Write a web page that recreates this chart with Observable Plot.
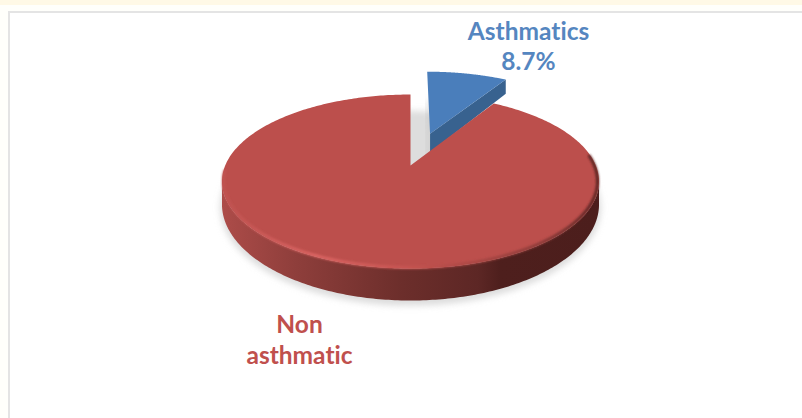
<!DOCTYPE html>
<html>
<head>
<meta charset="utf-8">
<script src="https://cdn.jsdelivr.net/npm/d3@7"></script>
<script src="https://cdn.jsdelivr.net/npm/@observablehq/plot@0.6"></script>
<style>
  html, body { margin: 0; padding: 0; background: #fffffb; }
  #strip { position: absolute; left: 0; top: 0; width: 802px; height: 5px; background: #fff9e6; }
  #frame { position: absolute; left: 8px; top: 11px; width: 794px; height: 407px;
           box-sizing: border-box; border-top: 2px solid #e4e4e4; border-left: 2px solid #e4e4e4; background: #fff; }
  #chart { position: absolute; left: 0; top: 0; }
</style>
</head>
<body>
<div id="strip"></div>
<div id="frame"></div>
<div id="chart"></div>
<script>
// Survey shares, in percent
const categories = ["Asthmatics", "Non asthmatic"];
const shares = [8.7, 91.3];
const labelLines = [["Asthmatics", "8.7%"], ["Non", "asthmatic"]];

// Colours of each slice
const topColors = ["#4a7ebb", "#bc4f4c"];
const wallColor = "#38628f";
const textColors = ["#5586c0", "#c0504d"];

// Camera for the tilted disc: unit disc coordinates are projected to the page
const width = 802, height = 418;
const hub = {x: 410, y: 165};
const radiusX = 185.3, radiusY = 84.06, perspective = 0.184, thickness = 21.3;
const explode = 0.42;

const project = (u, v, drop = 0) => {
  const w = 1 + perspective * v;
  return {x: hub.x + radiusX * u / w, y: hub.y - radiusY * v / w + drop * thickness / (w * w)};
};

// Angles run clockwise from twelve o'clock; first slice starts there
const total = d3.sum(shares);
const asthmaAngle = 2 * Math.PI * shares[0] / total;

const arcPoints = (a0, a1, cu = 0, cv = 0, drop = 0, r = 1, n = 120) =>
  d3.range(n + 1).map((i) => {
    const a = a0 + (a1 - a0) * i / n;
    return project(cu + r * Math.sin(a), cv + r * Math.cos(a), drop);
  });

// Blue slice, pulled out along its bisector
const mid = asthmaAngle / 2;
const cu = explode * Math.sin(mid), cv = explode * Math.cos(mid);
const blueTop = [project(cu, cv), ...arcPoints(0, asthmaAngle, cu, cv)];
const blueCorner = project(cu + Math.sin(asthmaAngle), cv + Math.cos(asthmaAngle));
const blueWall = [
  project(cu, cv), blueCorner,
  project(cu + Math.sin(asthmaAngle), cv + Math.cos(asthmaAngle), 1),
  project(cu, cv, 1)
];
const haze = [project(cu, cv + 0.45), project(cu, cv), project(cu, cv, 1)];

// Red slice: the rest of the disc
const redTop = [project(0, 0), ...arcPoints(asthmaAngle, 2 * Math.PI, 0, 0, 0, 1, 360)];
const edgeR = Math.PI / 2 + Math.asin(perspective), edgeL = 3 * Math.PI / 2 - Math.asin(perspective);
const redSide = [...arcPoints(edgeR, edgeL, 0, 0, 0, 1, 200), ...arcPoints(edgeL, edgeR, 0, 0, 1, 1, 200)];
const bevel = arcPoints(edgeR - 0.3, edgeL + 0.12, 0, 0, 0, 0.992, 300);
const shadow = arcPoints(0, 2 * Math.PI, 0, 0, 1.12, 1.01, 200);

// Gradients and blur used by the shaded parts of the disc
const defs = () => {
  const g = document.createElementNS("http://www.w3.org/2000/svg", "defs");
  g.innerHTML = `
    <linearGradient id="wall" gradientUnits="userSpaceOnUse" x1="221" x2="598" y1="0" y2="0">
      <stop offset="0" stop-color="#ad4c49"/>
      <stop offset="0.2" stop-color="#8e3e3b"/>
      <stop offset="0.48" stop-color="#6c2e2b"/>
      <stop offset="0.68" stop-color="#5d2725"/>
      <stop offset="0.74" stop-color="#4e1f1d"/>
      <stop offset="1" stop-color="#4c1e1c"/>
    </linearGradient>
    <linearGradient id="edge" gradientUnits="userSpaceOnUse" x1="221" x2="598" y1="0" y2="0">
      <stop offset="0" stop-color="#bf5250"/>
      <stop offset="0.25" stop-color="#dc6664"/>
      <stop offset="0.5" stop-color="#c65451"/>
      <stop offset="0.62" stop-color="#b14a47"/>
      <stop offset="0.85" stop-color="#8a3a38"/>
      <stop offset="1" stop-color="#5a2422"/>
    </linearGradient>
    <filter id="soft" x="-20%" y="-20%" width="140%" height="140%"><feGaussianBlur stdDeviation="1.3"/></filter>
    <filter id="softer" x="-20%" y="-20%" width="140%" height="140%"><feGaussianBlur stdDeviation="3"/></filter>
    <filter id="hazy" x="-200%" y="-50%" width="500%" height="200%"><feGaussianBlur stdDeviation="3"/></filter>`;
  return g;
};

const filtered = (id) => (index, scales, values, dimensions, context, next) => {
  const g = next(index, scales, values, dimensions, context);
  g.setAttribute("filter", `url(#${id})`);
  return g;
};

const xy = {x: "x", y: "y"};
const shape = (points, options) => Plot.line(points, {...xy, curve: "linear", strokeWidth: 0, ...options});
const labelFont = {fontFamily: "Lato, 'Open Sans', sans-serif", fontWeight: 700, fontSize: 24.5};

const chart = Plot.plot({
  width, height,
  margin: 0,
  style: {background: "transparent", fontVariantLigatures: "none"},
  x: {domain: [0, width], range: [0, width], axis: null},
  y: {domain: [0, height], range: [0, height], axis: null},
  marks: [
    defs,
    shape(shadow, {fill: "#cfcfcf", fillOpacity: 0.7, render: filtered("softer")}),
    Plot.line(haze, {...xy, stroke: "#a8a8a8", strokeWidth: 7, strokeOpacity: 0.25, render: filtered("hazy")}),
    shape(blueWall, {fill: wallColor}),
    shape(blueTop, {fill: topColors[0]}),
    shape(redSide, {fill: "url(#wall)"}),
    shape(redTop, {fill: topColors[1]}),
    Plot.line(bevel, {...xy, stroke: "url(#edge)", strokeWidth: 3, render: filtered("soft")}),
    Plot.text([labelLines[0][0]], {x: () => 528, y: () => 39, text: (d) => d, fill: textColors[0], lineAnchor: "bottom", ...labelFont}),
    Plot.text([`${shares[0]}%`], {x: () => 528, y: () => 69, text: (d) => d, fill: textColors[0], lineAnchor: "bottom", ...labelFont}),
    Plot.text([labelLines[1][0]], {x: () => 299, y: () => 332, text: (d) => d, fill: textColors[1], lineAnchor: "bottom", ...labelFont}),
    Plot.text([labelLines[1][1]], {x: () => 299, y: () => 363, text: (d) => d, fill: textColors[1], lineAnchor: "bottom", ...labelFont})
  ]
});
document.getElementById("chart").append(chart);
</script>
</body>
</html>
